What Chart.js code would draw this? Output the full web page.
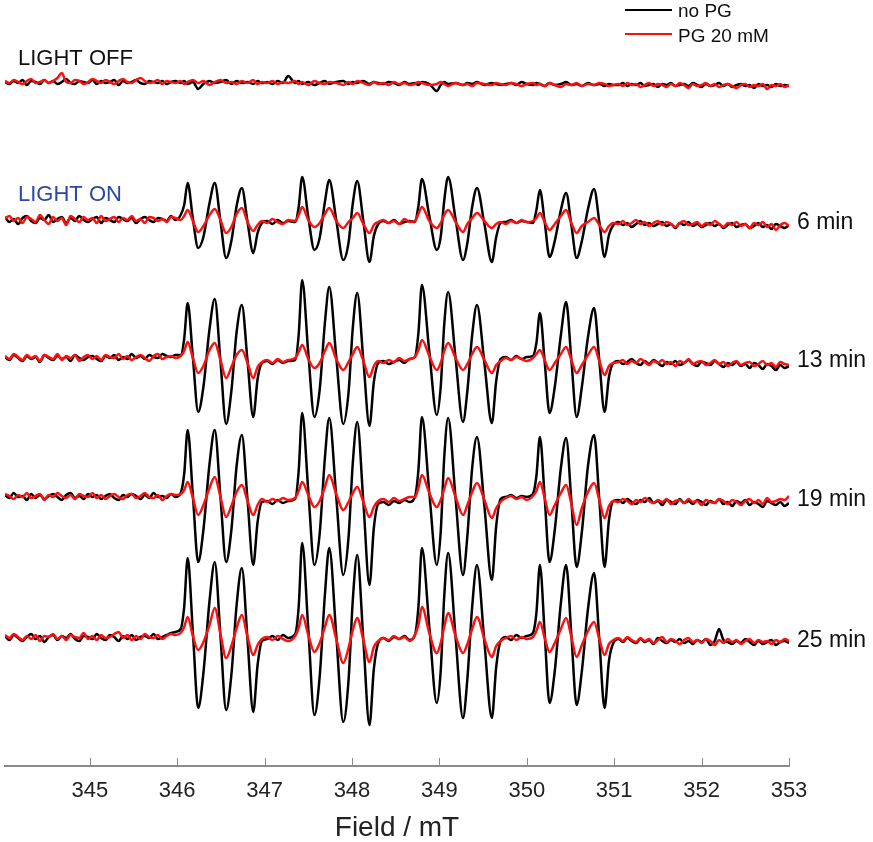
<!DOCTYPE html>
<html>
<head>
<meta charset="UTF-8">
<title>EPR spectra</title>
<script src="https://cdn.jsdelivr.net/npm/chart.js"></script>
<style>
  html, body { margin: 0; padding: 0; background: #fff; }
  #wrap { width: 873px; height: 842px; position: relative; }
</style>
</head>
<body>
<div id="wrap"><canvas id="epr"></canvas></div>
<script>
// magnetic field (mT) of each sampled point, shared by every trace
const field = [
  344.03,344.08,344.13,344.18,344.23,344.28,344.33,344.38,344.43,344.48,
  344.53,344.58,344.63,344.68,344.73,344.78,344.83,344.88,344.93,344.98,
  345.03,345.08,345.13,345.18,345.23,345.28,345.33,345.38,345.43,345.48,
  345.53,345.58,345.63,345.68,345.73,345.78,345.83,345.88,345.93,345.98,
  346.04,346.08,346.12,346.18,346.24,346.30,346.37,346.43,346.495,346.56,346.62,346.68,346.74,346.805,346.87,346.92,346.97,
  347.03,347.09,347.15,347.21,347.27,
  347.35,347.39,347.43,347.50,347.57,347.63,347.69,347.74,347.82,347.90,347.96,348.01,348.06,348.13,348.20,348.25,348.30,
  348.36,348.42,348.48,348.54,348.60,348.66,
  348.72,348.76,348.80,348.885,348.97,349.015,349.055,349.10,349.185,349.27,349.32,349.375,349.43,349.515,349.60,349.65,349.70,
  349.76,349.82,349.88,349.94,350.00,
  350.07,350.11,350.15,350.205,350.26,350.32,350.39,350.45,350.51,350.57,350.63,350.70,350.77,350.83,350.89,350.94,350.99,
  351.05,351.10,351.15,351.20,351.25,351.30,351.35,351.40,351.45,351.50,
  351.55,351.60,351.65,351.70,351.75,351.80,351.85,351.90,351.95,352.00,
  352.05,352.10,352.15,352.20,352.25,352.30,352.35,352.40,352.45,352.50,
  352.55,352.60,352.65,352.70,352.75,352.80,352.85,352.90,352.95,353.00
];

const tickFields = [345, 346, 347, 348, 349, 350, 351, 352, 353];

const traceNames = ["LIGHT OFF", "6 min", "13 min", "19 min", "25 min"];
// vertical stacking offset of each trace (arbitrary units)
const traceOffset = [684, 547, 409, 270, 129];

// signal, no PG (black)
const noPG_off = [
  0,-2,1,-1,2,-3,1,0,-2,2, -1,1,-2,0,3,-1,-2,1,0,-1, 2,-2,1,-1,0,2,-3,1,-1,0, 2,-1,-2,1,0,-1,1,-2,0,1,
  -1,1,-2,0,-7,-2,1,-1,0,2,-2,1,-1,0,-2,1,-1,
  0,-2,1,-1,6,
  -1,1,-2,0,-3,-1,1,-2,0,1,-2,0,-1,1,-2,0,-1,
  -2,0,-1,-3,0,-2,
  -1,-3,0,-2,-9,-3,0,-2,-1,-3,-1,-2,0,-3,-1,-2,-3,
  -2,-1,-3,0,-2,
  -3,-1,-2,-4,-1,-3,-2,0,-3,-2,-4,-1,-3,-2,-4,-2,-3,
  -3,-1,-4,-2,-3,-1,-4,-3,-2,-5, -2,-3,-1,-4,-3,-2,-4,-1,-3,-5, -2,-4,-3,-1,-4,-2,-5,-3,-2,-4, -3,-6,-2,-4,-3,-5,-2,-4,-3,-4
];
const noPG_6 = [
  2,-3,0,-5,1,3,-2,-4,1,-1, 4,-3,0,2,-4,1,-2,3,-1,-3, 0,2,-4,1,-1,-3,2,0,-2,1, -4,0,2,-1,-3,1,0,-2,3,-1,
  4,14,36,0,-29,-18,16,36,-2,-39,-22,13,31,-3,-34,-14,-4,
  -2,-5,-1,-4,-2,
  -3,12,42,2,-31,-19,17,39,-1,-41,-24,16,38,-2,-43,-17,-5,
  -2,-4,-1,-5,-3,-2,
  -3,13,40,3,-31,-18,18,42,0,-41,-24,12,31,-5,-43,-18,-4,
  -3,-1,-4,-2,-3,
  -4,9,29,-3,-38,-22,9,26,-6,-39,-22,10,30,-3,-38,-16,-6,
  -3,-6,-4,-8,-5,-2,-6,-4,-7,-5, -3,-7,-5,-9,-4,-6,-3,-7,-5,-8, -6,-4,-7,-5,-9,-6,-4,-8,-6,-5, -9,-7,-4,-8,-6,-10,-5,-7,-9,-6
];
const noPG_13 = [
  0,-3,2,-1,-4,1,-2,0,-5,2, -1,-3,1,-2,0,-4,2,-1,-3,0, 1,-2,-4,1,-1,2,-3,0,-2,3, -1,1,-2,2,0,-1,3,1,0,2,
  2,18,54,-1,-55,-30,28,58,-4,-67,-34,25,52,-4,-60,-22,-6,
  -4,-7,-3,-6,-4,
  -3,22,77,4,-60,-33,34,70,0,-67,-36,30,64,-3,-69,-25,-6,
  -4,-7,-5,-3,-6,-2,
  0,24,72,5,-58,-30,32,65,-1,-65,-34,22,52,-6,-66,-24,-2,
  0,-3,1,-2,0,
  1,14,44,-5,-56,-30,22,55,-3,-60,-30,20,49,-4,-55,-20,-6,
  -4,-7,-5,-2,-6,-8,-4,-7,-3,-6, -9,-5,-7,-4,-8,-6,-3,-7,-9,-5, -6,-8,-4,-7,-10,-6,-8,-5,-9,-7, -11,-6,-8,-12,-7,-9,-13,-8,-11,-9
];
const noPG_19 = [
  1,-2,3,-1,0,-4,2,-2,1,-3, 0,2,-1,-4,1,3,-2,0,-3,2, -1,1,-3,0,2,-2,-4,1,-1,2, 0,-3,1,-2,3,-1,0,-2,2,-1,
  3,22,66,0,-66,-34,32,66,-1,-66,-34,30,61,-4,-69,-26,-6,
  -5,-8,-4,-7,-5,
  -3,25,83,5,-69,-38,38,78,-1,-79,-42,34,74,-6,-89,-32,-8,
  -6,-9,-5,-7,-4,-6,
  -1,26,79,3,-69,-36,38,78,-2,-79,-40,28,59,-10,-84,-30,-3,
  -1,1,-2,0,-1,
  2,20,59,-2,-66,-34,28,58,-5,-71,-36,30,61,-4,-71,-24,-5,
  -4,-7,-3,-6,-8,-4,-6,-2,-7,-5, -9,-4,-6,-8,-3,-7,-5,-8,-4,-6, -9,-5,-7,-3,-8,-6,-10,-5,-7,-4, -9,-6,-8,-11,-5,-7,-9,-6,-10,-7
];
const noPG_25 = [
  1,-3,2,-1,-4,0,3,-2,1,-5, 0,2,-3,1,-1,3,-2,-4,1,0, -2,3,-1,-3,2,0,-4,1,-2,2, -3,0,1,-1,3,-2,0,2,4,5,
  8,30,79,4,-71,-36,36,75,1,-73,-38,32,69,-3,-75,-28,-4,
  -2,1,-3,2,-1,
  3,30,94,8,-78,-40,42,89,2,-85,-44,38,82,-3,-88,-32,-6,
  -1,-4,0,-2,1,-3,
  2,30,89,10,-66,-34,40,84,0,-81,-42,30,72,-5,-81,-30,-4,
  0,-3,2,-1,1,
  4,24,72,3,-66,-34,34,72,2,-68,-34,28,64,-3,-71,-24,-6,
  -2,-5,-1,-4,-6,-2,-5,-3,-7,-1, -4,-6,-3,-5,-2,-6,-4,-7,-3,-5, -2,-8,-4,8,-3,-5,-7,-4,-6,-2, -5,-8,-4,-7,-5,-3,-8,-5,-4,-6
];

// signal, PG 20 mM (red)
const pg20_off = [
  1,-1,2,0,-2,1,3,-1,0,2, -1,1,4,9,0,-1,2,1,-2,0, 3,1,-1,2,0,-2,1,3,0,-1, 2,4,1,-1,0,2,-2,1,0,-1,
  1,-2,0,2,-1,1,-3,0,2,-1,0,-2,1,-1,2,-2,0,
  -1,1,-2,0,-1,
  1,-2,0,-3,1,-1,-2,0,-1,-3,0,-2,1,-1,-3,0,-2,
  -1,-3,0,-2,-1,-3,
  -2,0,-1,-3,-2,0,-2,-4,-1,-3,-2,-4,-1,-2,-3,-1,-2,
  -3,-1,-2,-4,-2,
  -1,-3,-2,-4,-1,-3,-5,-2,-3,-1,-4,-2,-3,-1,-2,-4,-3,
  -2,-4,-1,-3,-2,-5,-3,-1,-4,-2, -3,-5,-2,-4,-1,-3,-6,-2,-4,-3, -1,-4,-2,-5,-3,-2,-4,-6,-3,-2, -5,-3,-4,-2,-7,-3,-4,-2,-5,-3
];
const pg20_6 = [
  0,3,-2,1,-4,2,0,-3,4,-1, -5,2,-2,1,-6,3,0,-3,2,-1, 1,-4,3,-2,0,2,-3,1,-1,3, -2,0,-4,2,1,-2,0,-3,2,1,
  -1,3,9,-2,-13,-7,4,10,-1,-14,-8,5,11,-3,-12,-6,-2,
  -4,0,-3,-5,-1,
  -2,4,12,-1,-8,-4,5,11,-2,-9,-3,1,6,-5,-14,-6,-3,
  -1,-4,-2,-5,0,-3,
  -2,5,12,-2,-9,-4,4,9,-3,-13,-5,1,6,-2,-9,-5,-3,
  -5,-2,-4,-1,-3,
  -2,1,6,-3,-11,-5,3,9,-4,-14,-7,-3,1,-6,-13,-7,-4,
  -5,-2,-6,-4,-1,-5,-3,-7,-4,-2, -6,-3,-5,-8,-4,-2,-6,-5,-3,-7, -4,-6,-2,-5,-8,-4,-6,-3,-7,-5, -9,-4,-6,-3,-8,-5,-11,-6,-4,-7
];
const pg20_13 = [
  1,-2,3,0,-3,2,-1,1,-4,2, 0,-2,3,-3,1,-1,2,-4,0,2, -2,1,-3,2,0,-1,3,-2,1,-3, 0,2,-1,-4,1,3,-2,0,1,-1,
  1,6,15,-1,-16,-9,7,14,-3,-21,-10,2,7,-6,-21,-10,-5,
  -3,-6,-2,-5,-3,
  -1,5,12,-2,-11,-6,6,14,-2,-13,-5,3,10,-4,-20,-9,-4,
  -6,-3,-5,-1,-4,-2,
  0,7,17,1,-13,-6,6,14,-1,-13,-7,3,10,-3,-16,-8,-4,
  -1,-3,0,-2,-4,
  -1,3,7,-3,-13,-6,3,10,-3,-16,-8,2,10,-4,-18,-9,-6,
  -5,-3,-7,-4,-6,-2,-5,-8,-4,-6, -3,-7,-5,-9,-4,-6,-2,-7,-5,-4, -8,-6,-3,-7,-5,-9,-6,-4,-8,-6, -5,-9,-7,-4,-8,-6,-10,-5,-7,-8
];
const pg20_19 = [
  2,0,-3,1,-1,3,-2,0,2,-4, 1,-1,3,0,-2,1,-3,2,0,-1, 3,-2,1,-3,0,2,-1,-3,1,2, -2,0,3,-1,-2,1,-4,0,2,1,
  2,6,14,-2,-19,-9,8,19,-1,-21,-10,4,11,-5,-19,-9,-3,
  -6,-3,-5,-2,-4,
  -2,5,14,1,-11,-5,9,21,2,-14,-6,3,9,-6,-21,-11,-5,
  -3,-6,-2,-5,-3,-1,
  -1,8,21,3,-11,-4,7,18,-1,-19,-9,4,13,-4,-22,-12,-6,
  -2,0,-3,-1,-4,
  0,5,14,-2,-19,-9,3,11,-8,-29,-12,4,13,-4,-22,-10,-5,
  -6,-3,-5,-8,-4,-6,-2,-5,-7,-4, -6,-3,-8,-5,-4,-7,-3,-6,-5,-9, -4,-6,-7,-3,-5,-8,-4,-6,-9,-5, -3,-7,-4,-8,-2,-6,-5,-3,-4,0
];
const pg20_25 = [
  2,-1,3,0,-3,1,-2,2,-4,1, 0,3,-2,1,-3,2,0,-1,4,-2, 1,-3,2,-1,0,3,5,-1,2,-3, 1,-2,3,0,-1,2,-2,1,3,2,
  4,10,20,1,-13,-5,12,29,3,-21,-9,9,22,0,-18,-8,-2,
  0,-3,1,-2,-4,
  1,9,22,2,-15,-6,10,22,-2,-26,-11,7,19,-3,-25,-10,-4,
  -1,-3,1,-2,0,-4,
  2,12,30,4,-16,-6,10,24,1,-16,-7,8,20,-2,-20,-9,-4,
  -1,1,-3,0,-2,
  0,6,15,-1,-15,-6,8,19,0,-20,-8,6,15,-2,-18,-7,-3,
  -1,-4,0,-3,-5,-1,-4,-2,-6,-3, 0,-5,-2,-4,-7,-3,-1,-5,-3,-6, -2,-4,-8,-3,-6,-2,-5,-3,-7,-4, -2,-6,-3,-5,-4,-7,-3,-5,-2,-4
];

const noPG = [noPG_off, noPG_6, noPG_13, noPG_19, noPG_25];
const pg20 = [pg20_off, pg20_6, pg20_13, pg20_19, pg20_25];

noPG.concat(pg20).forEach((s, i) => {
  if (s.length !== field.length) throw new Error("series " + i + " has " + s.length + " points, expected " + field.length);
});

const FONT = "'Liberation Sans', Arial, sans-serif";
Chart.defaults.font.family = FONT;

const toPoints = (vals, k) => vals.map((v, j) => ({ x: field[j], y: traceOffset[k] + v }));

const datasets = [];
traceNames.forEach((name, k) => {
  datasets.push({
    label: "PG 20 mM",
    data: toPoints(pg20[k], k),
    borderColor: "#ff1010",
    borderWidth: 2.5,
    order: 0
  });
  datasets.push({
    label: "no PG",
    data: toPoints(noPG[k], k),
    borderColor: "#000000",
    borderWidth: 2.5,
    order: 1
  });
});

const annotations = {
  id: "annotations",
  afterDraw(chart) {
    const { ctx, scales: { x, y } } = chart;
    ctx.save();

    // inward tick marks on the field axis
    ctx.strokeStyle = "#8a8a8a";
    ctx.lineWidth = 1;
    const axisY = chart.chartArea.bottom;
    tickFields.forEach(t => {
      const px = Math.round(x.getPixelForValue(t)) + 0.5;
      ctx.beginPath();
      ctx.moveTo(px, axisY);
      ctx.lineTo(px, axisY - 8);
      ctx.stroke();
    });

    // trace labels
    ctx.textBaseline = "middle";
    ctx.textAlign = "left";
    ctx.font = "23px " + FONT;
    ctx.fillStyle = "#111";
    for (let k = 1; k < traceNames.length; k++) {
      ctx.fillText(traceNames[k], 797, y.getPixelForValue(traceOffset[k]) + 4);
    }
    ctx.font = "22px " + FONT;
    ctx.fillText("LIGHT OFF", 18, y.getPixelForValue(traceOffset[0]) - 23);
    ctx.fillStyle = "#2a48a8";
    ctx.fillText("LIGHT ON", 18, y.getPixelForValue(traceOffset[1]) - 24);

    // legend
    ctx.lineWidth = 2;
    ctx.font = "19px " + FONT;
    ctx.fillStyle = "#111";
    ctx.strokeStyle = "#000";
    ctx.beginPath(); ctx.moveTo(625, 10); ctx.lineTo(672, 10); ctx.stroke();
    ctx.fillText("no PG", 678, 12);
    ctx.strokeStyle = "#ff1010";
    ctx.beginPath(); ctx.moveTo(625, 34); ctx.lineTo(672, 34); ctx.stroke();
    ctx.fillText("PG 20 mM", 678, 37);

    ctx.restore();
  }
};

new Chart(document.getElementById("epr"), {
  type: "line",
  data: { datasets },
  options: {
    responsive: true,
    maintainAspectRatio: false,
    animation: false,
    events: [],
    layout: { padding: { top: 10, left: 5, right: 84, bottom: 0 } },
    elements: {
      point: { radius: 0 },
      line: { cubicInterpolationMode: "monotone", borderJoinStyle: "round", fill: false }
    },
    plugins: { legend: { display: false }, tooltip: { enabled: false } },
    scales: {
      x: {
        type: "linear",
        min: 344.03,
        max: 353,
        afterBuildTicks: scale => { scale.ticks = tickFields.map(v => ({ value: v })); },
        afterFit: scale => { scale.height = 76; },
        grid: { display: false, drawTicks: false },
        border: { display: true, color: "#8a8a8a", width: 2 },
        ticks: {
          padding: 12,
          color: "#222",
          font: { size: 22 },
          maxRotation: 0,
          autoSkip: false,
          callback: v => String(v)
        },
        title: {
          display: true,
          text: "Field / mT",
          color: "#222",
          font: { size: 28, lineHeight: 1 },
          padding: { top: 0, bottom: 0 }
        }
      },
      y: { display: false, min: 0, max: 756 }
    }
  },
  plugins: [annotations]
});
</script>
</body>
</html>
